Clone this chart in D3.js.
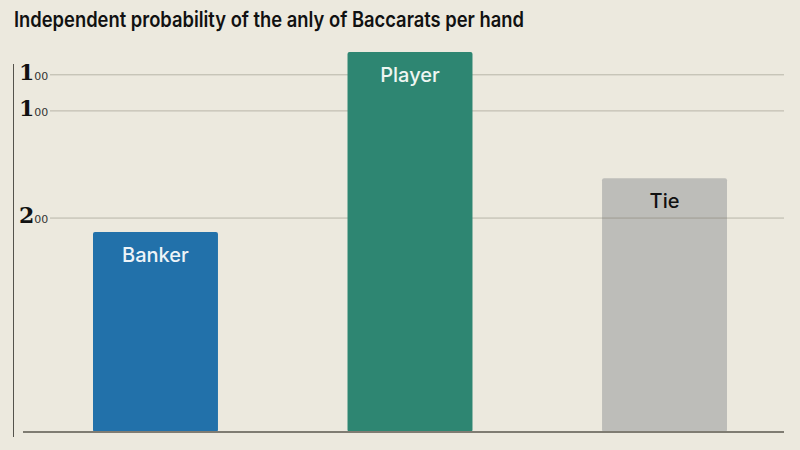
<!DOCTYPE html>
<html>
  <head>
    <meta charset="utf-8">
    <title>Baccarat probability</title>
    <script src="https://cdn.jsdelivr.net/npm/d3@7"></script>
    <style>
      body { margin: 0; background: #ece9de; }
      svg { display: block; }
    </style>
  </head>
  <body>
    <svg width="800" height="450"></svg>
    <script>
      // values, scale runs 0..1
      var categories = ["Banker", "Player", "Tie"];
      var values = [0.526, 1.0, 0.668];
      var barColors = ["#2271aa", "#2e8672", "#bdbdb9"];
      var labelColors = ["#eef4f8", "#eef6f2", "#111111"];
      var tickValues = [0.94, 0.845, 0.563];
      var tickLabels = ["1", "1", "2"];

      var svg = d3.select("svg");

      svg.append("rect").attr("width", 800).attr("height", 450).attr("fill", "#ece9de");

      svg.append("text")
        .attr("x", 14).attr("y", 27)
        .attr("font-family", "Inter, 'Liberation Sans', sans-serif")
        .attr("font-weight", 600)
        .attr("font-size", 21)
        .attr("textLength", 510)
        .attr("lengthAdjust", "spacingAndGlyphs")
        .attr("fill", "#111")
        .text("Independent probability of the anly of Baccarats per hand");

      var y = d3.scaleLinear().domain([0, 1]).range([432, 52]);
      var x = d3.scaleBand().domain(categories).range([93, 727]).paddingInner(0.509).paddingOuter(0);

      // grid lines
      svg.append("g").selectAll("line")
        .data(tickValues)
        .enter()
        .append("line")
        .attr("x1", 50).attr("x2", 784)
        .attr("y1", function (d) { return y(d); })
        .attr("y2", function (d) { return y(d); })
        .attr("stroke", "#b8b5a8")
        .attr("stroke-width", 1);

      // tick labels, big digit with small "00"
      var tl = svg.append("g").selectAll("text")
        .data(tickValues)
        .enter()
        .append("text")
        .attr("x", 19)
        .attr("y", function (d) { return y(d) + 5; })
        .attr("fill", "#111");
      tl.append("tspan")
        .attr("font-family", "'DejaVu Serif', serif")
        .attr("font-weight", "bold")
        .attr("font-size", 22)
        .text(function (d, i) { return tickLabels[i]; });
      tl.append("tspan")
        .attr("font-size", 11)
        .attr("font-family", "'DejaVu Sans', sans-serif")
        .attr("fill", "#333")
        .text("00");

      // bars
      svg.append("g").selectAll("rect")
        .data(values)
        .enter()
        .append("rect")
        .attr("x", function (d, i) { return x(categories[i]); })
        .attr("y", function (d) { return y(d); })
        .attr("width", x.bandwidth())
        .attr("height", function (d) { return y(0) - y(d); })
        .attr("rx", 2)
        .attr("fill", function (d, i) { return barColors[i]; });

      // the grid shows faintly through the grey bar
      svg.append("line")
        .attr("x1", x("Tie")).attr("x2", x("Tie") + x.bandwidth())
        .attr("y1", y(tickValues[2])).attr("y2", y(tickValues[2]))
        .attr("stroke", "#9e9c93").attr("stroke-width", 1);

      svg.append("g").selectAll("text")
        .data(values)
        .enter()
        .append("text")
        .attr("x", function (d, i) { return x(categories[i]) + x.bandwidth() / 2; })
        .attr("y", function (d) { return y(d) + 30; })
        .attr("text-anchor", "middle")
        .attr("font-family", "Inter, 'Liberation Sans', Arial, sans-serif")
        .attr("font-weight", 500)
        .attr("font-size", 20)
        .attr("fill", function (d, i) { return labelColors[i]; })
        .text(function (d, i) { return categories[i]; });

      // axes
      svg.append("line")
        .attr("x1", 13.5).attr("x2", 13.5).attr("y1", 64).attr("y2", 437)
        .attr("stroke", "#55534c").attr("stroke-width", 1);
      svg.append("line")
        .attr("x1", 23).attr("x2", 784).attr("y1", y(0)).attr("y2", y(0))
        .attr("stroke", "#7f7c72").attr("stroke-width", 2);
    </script>
  </body>
</html>
